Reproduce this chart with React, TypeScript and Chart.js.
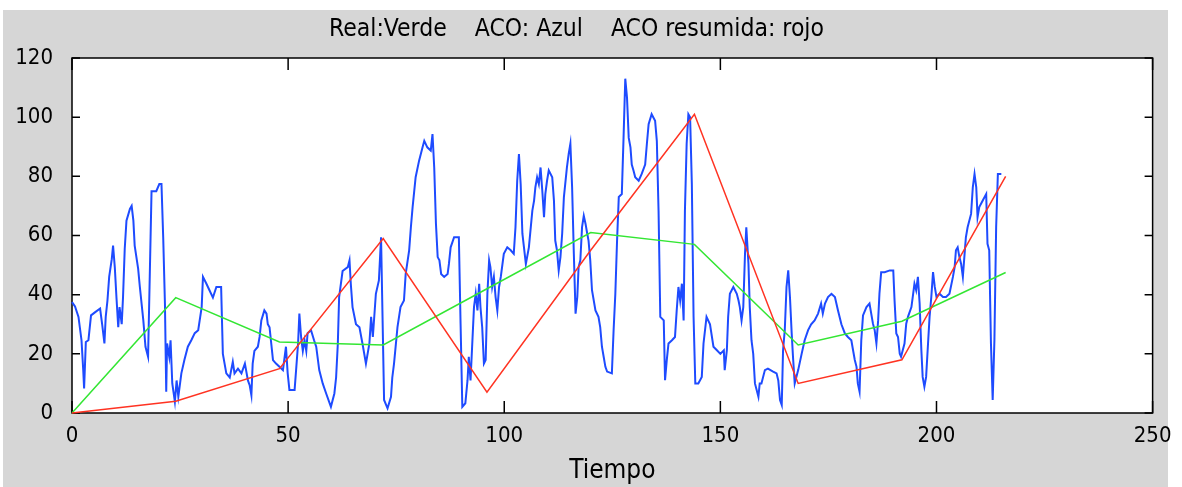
import React, { useEffect, useRef } from "react";
import { Chart, registerables } from "chart.js";

Chart.register(...registerables);

const xTicks = [0, 50, 100, 150, 200, 250];
const yTicks = [0, 20, 40, 60, 80, 100, 120];

const titleText = "Real:Verde    ACO: Azul    ACO resumida: rojo";
const xTitle = "Tiempo";

// Real (verde)
const realT = [0, 24, 48, 72, 96, 120, 144, 168, 192, 216];
const realV = [0, 39, 24, 23, 42, 61, 57, 23, 31, 47.5];

// ACO resumida (rojo)
const resT = [0, 24, 48, 72, 96, 120, 144, 168, 192, 216];
const resV = [0, 4, 15, 59, 7, 55, 101, 10, 18, 80];

// ACO (azul)
const acoT = [
  0, 0.7, 1.5, 2.2, 2.6, 2.8, 3.2, 3.8, 4.4, 5.3, 6.5, 7, 7.5, 7.8, 8.2, 8.6, 9.2, 9.5, 9.9, 10.3,
  10.7, 11, 11.5, 11.8, 12.2, 12.6, 13.4, 13.8, 14.2, 14.5, 15.3, 15.7, 16.5, 17, 17.6, 18, 18.4, 19.5, 20.2, 20.7,
  21.1, 21.5, 21.8, 22, 22.5, 22.8, 23.2, 23.8, 24.2, 24.6, 25.3, 26, 26.8, 27.6, 28.4, 29.2, 30, 30.3, 31.1, 31.8,
  32.6, 33.4, 34.5, 34.9, 35.7, 36.5, 37.2, 37.6, 38.4, 39.2, 40, 40.7, 41.1, 41.5, 41.8, 42.2, 43, 43.4, 43.8, 44.5,
  45, 45.3, 45.7, 46.5, 47.2, 48, 48.8, 49.5, 49.9, 50.3, 51.5, 51.9, 52.3, 52.6, 53, 53.4, 53.8, 54.2, 54.5, 55.3,
  56, 56.5, 57.2, 58, 58.8, 59.9, 60.7, 61.1, 61.5, 61.8, 62.6, 63.8, 64.2, 64.5, 64.9, 65.7, 66.5, 67.2, 68, 68.8,
  69.2, 69.6, 70.3, 71, 71.5, 72.2, 73, 73.8, 74.1, 74.5, 75.3, 76, 76.8, 77.2, 78, 78.4, 78.8, 79.5, 80.3, 81.1,
  81.5, 82.2, 83, 83.4, 83.8, 84.2, 84.6, 85, 85.4, 86.1, 86.9, 87.2, 87.6, 88.4, 89.5, 89.9, 90.3, 91, 91.5, 91.8,
  92.2, 93, 93.4, 93.8, 94.2, 94.5, 94.9, 95.3, 95.7, 96.1, 96.5, 96.8, 97.2, 97.6, 98, 98.4, 98.8, 99.2, 99.9, 100.7,
  101.5, 102.2, 102.6, 103, 103.4, 103.8, 104.2, 105, 105.7, 106.5, 106.9, 107.2, 107.6, 108, 108.4, 108.8, 109.2, 109.5, 109.9, 110.3,
  111.1, 111.5, 111.8, 112.2, 112.6, 113, 113.4, 113.8, 114.5, 114.9, 115.3, 115.7, 116.1, 116.5, 116.9, 117.2, 117.6, 118, 118.4, 118.8,
  119.2, 119.5, 119.9, 120.3, 121.1, 121.8, 122.2, 122.6, 123, 123.4, 123.8, 124.9, 125.3, 125.7, 126.1, 126.5, 127.2, 127.6, 128, 128.4,
  128.8, 129.2, 129.5, 129.9, 130.3, 131.1, 131.8, 132.6, 133, 133.4, 134.1, 134.9, 135.3, 135.7, 136.1, 136.9, 137.2, 137.6, 138, 138.8,
  139.5, 139.9, 140.3, 140.7, 141.1, 141.5, 141.8, 142.2, 142.6, 143, 143.4, 143.8, 144.2, 144.9, 145.7, 146.1, 146.8, 147.6, 148.4, 149.2,
  150, 150.8, 151, 151.5, 151.8, 152.2, 153, 153.8, 154.2, 154.5, 154.9, 155.3, 155.7, 156, 156.5, 156.8, 157.2, 157.6, 158, 158.8,
  159.1, 159.5, 160.3, 161, 162.2, 163, 163.4, 163.8, 164.2, 164.5, 164.9, 165.3, 165.7, 166.1, 166.5, 166.8, 167.2, 168, 168.8, 169.5,
  170.3, 171, 171.8, 172.6, 173.3, 173.7, 174.2, 174.9, 175.7, 176.5, 177.2, 178, 178.8, 179.5, 180.3, 180.7, 181.1, 181.5, 181.8, 182.2,
  182.6, 183, 183.8, 184.5, 185.3, 185.7, 186.1, 186.5, 186.8, 187.2, 188, 189.2, 190, 190.3, 190.7, 191.1, 191.5, 191.8, 192.6, 193,
  193.4, 194.2, 194.6, 194.9, 195.3, 195.7, 196.1, 196.5, 196.8, 197.2, 197.6, 198, 198.4, 198.8, 199.2, 199.6, 200, 200.7, 201.5, 202.2,
  203, 203.8, 204.2, 204.5, 204.9, 205.3, 205.7, 206.1, 206.5, 206.8, 207.2, 208, 208.4, 208.8, 209.2, 209.5, 209.9, 210.7, 211.5, 211.8,
  212.2, 212.6, 213, 213.4, 213.8, 214.2, 215,
];
const acoV = [
  37.5, 36, 32.5, 24.6, 14.5, 8.3, 24, 24.6, 33, 34, 35.3, 29.7, 23.5, 32.5, 38, 46, 52, 56.6, 49.3, 38.7,
  29, 35.8, 30, 39, 55.5, 65, 69, 70, 65, 56.6, 48.8, 42.6, 31.3, 22.4, 19, 47, 75, 75, 77.4, 77.4,
  59.4, 37, 7.2, 23.5, 19, 24.6, 10, 3.8, 11, 5.5, 13.4, 17.9, 22.4, 24.6, 27, 28, 35.8, 46, 43.7, 41.5,
  39, 42.6, 42.6, 20, 13.4, 12, 17.3, 13.4, 15, 13.4, 16.7, 11, 9.4, 6, 16.7, 21, 22.4, 25.7, 31.3, 34.7,
  33.6, 30, 29, 17.9, 16.7, 15.6, 14.5, 22.4, 13.4, 7.8, 7.8, 15.6, 23.5, 33.6, 25.7, 21, 24.6, 21, 27, 28,
  24.6, 22.4, 14.5, 10, 6.6, 2.1, 6.6, 12, 23.5, 39.2, 48, 49.3, 51.6, 43.7, 35.8, 30, 29, 23.5, 16.7, 23.5,
  32.5, 25.7, 40.3, 44.8, 59.4, 4.4, 1.6, 5.5, 12, 16.7, 29, 35.8, 38, 47, 55, 62.8, 69.6, 79.7, 85.3, 89.8,
  92, 89.8, 88.7, 94.3, 83, 64, 52.7, 51.6, 47, 46, 47, 50.4, 56, 59.4, 59.4, 30, 2.1, 3.3, 11, 19,
  11, 35.8, 40.3, 34.7, 43.7, 35.8, 29, 16.7, 17.9, 40.3, 51.6, 49.3, 42.6, 46, 39.2, 34.7, 42.6, 46, 53.8, 56,
  55, 53.8, 62.8, 78.5, 87.5, 77.4, 60.6, 50.4, 56, 68.4, 71.8, 76.3, 79.7, 77.4, 83, 75.2, 66.2, 74, 78.5, 82,
  79.7, 71.8, 58.3, 55, 48.2, 52.7, 60.6, 73, 83, 87.5, 91, 76.3, 53.8, 33.6, 39.2, 49.3, 51.6, 62.8, 66.7, 64,
  60.6, 58.3, 51.6, 41.5, 34.7, 32.5, 29, 22.4, 19, 15.6, 14, 13.4, 28, 40.3, 58.3, 73, 74, 93, 113, 106.6,
  93, 89.8, 84, 82, 79.7, 78.5, 80.8, 84, 91, 97.6, 101, 98.8, 92, 68.4, 32.5, 31.3, 11.1, 17.9, 23.5, 24.6,
  25.7, 34.7, 42.6, 38, 43.7, 31.3, 68.4, 91, 101, 100, 77.4, 32.5, 10, 10, 12.2, 23.5, 32.5, 30, 22.4, 21.2,
  20, 21.2, 14.5, 21.2, 32.5, 40.3, 42.6, 40.3, 38, 35.8, 31.3, 35.8, 53.8, 62.8, 50.4, 35.8, 24.6, 20, 10, 5.5,
  10, 10, 14.5, 15, 14, 13.4, 11, 4.4, 2.7, 21.2, 28, 42.6, 48.2, 39.2, 26.9, 19, 10, 14.5, 20, 24.6,
  28, 30, 31.3, 33.6, 37, 33.6, 37, 39.2, 40.3, 39.2, 34.7, 30, 26.9, 25.7, 24.6, 21.2, 17.9, 15.6, 10, 7.2,
  24.6, 33, 35.8, 37, 30.2, 28, 23.5, 31.3, 40.3, 47.6, 47.6, 48.2, 48.2, 38, 26.9, 25.7, 20, 19, 23.5, 30.2,
  32.5, 35.8, 40.3, 43.7, 41.5, 46, 37, 21.2, 12.2, 8.9, 12.2, 22.4, 32.5, 39.2, 47.6, 42.6, 39.2, 40.3, 39.2, 39.2,
  40.3, 46, 49.3, 55, 56, 52.7, 50.4, 46, 53.8, 59.4, 62.8, 67.3, 76.3, 80.8, 76.3, 66.2, 69.6, 71.8, 74, 57.2,
  55, 23.5, 4.4, 24.6, 62.8, 80.8, 80.8,
];

const FONT = '"Liberation Sans Narrow", "DejaVu Sans Condensed", "Liberation Sans", sans-serif';

const toPoints = (t: number[], v: number[]) => t.map((x, i) => ({ x, y: v[i] }));

const framePlugin = {
  id: "matlabFrame",
  beforeDraw(chart: any) {
    const { ctx, chartArea: a, width, height } = chart;
    ctx.save();
    ctx.fillStyle = "#ffffff";
    ctx.fillRect(0, 0, width, height);
    ctx.fillStyle = "#d6d6d6";
    ctx.fillRect(3, 10, 1165, height - 10);
    ctx.fillStyle = "#ffffff";
    ctx.fillRect(a.left, a.top, a.right - a.left, a.bottom - a.top);
    ctx.restore();
  },
  beforeDatasetsDraw(chart: any) {
    const { ctx, chartArea: a, scales } = chart;
    ctx.save();
    ctx.strokeStyle = "#000000";
    ctx.lineWidth = 1.5;
    ctx.strokeRect(a.left, a.top, a.right - a.left, a.bottom - a.top);
    ctx.beginPath();
    for (const v of xTicks) {
      const px = scales.x.getPixelForValue(v);
      ctx.moveTo(px, a.bottom);
      ctx.lineTo(px, a.bottom - 12);
      ctx.moveTo(px, a.top);
      ctx.lineTo(px, a.top + 12);
    }
    for (const v of yTicks) {
      const py = scales.y.getPixelForValue(v);
      ctx.moveTo(a.left, py);
      ctx.lineTo(a.left + 8, py);
      ctx.moveTo(a.right, py);
      ctx.lineTo(a.right - 8, py);
    }
    ctx.stroke();
    ctx.restore();
  },
};

export default function App() {
  const ref = useRef<HTMLCanvasElement | null>(null);

  useEffect(() => {
    document.body.style.margin = "0";
    const canvas = ref.current;
    if (!canvas) return;
    const chart = new Chart(canvas, {
      type: "line",
      data: {
        datasets: [
          {
            label: "ACO resumida",
            data: toPoints(resT, resV),
            borderColor: "#ff3322",
            borderWidth: 1.5,
            pointRadius: 0,
            order: 0,
            clip: false,
          },
          {
            label: "Real",
            data: toPoints(realT, realV),
            borderColor: "#33e633",
            borderWidth: 1.5,
            pointRadius: 0,
            order: 1,
            clip: false,
          },
          {
            label: "ACO",
            data: toPoints(acoT, acoV),
            borderColor: "#1e4bff",
            borderWidth: 2,
            pointRadius: 0,
            order: 2,
            clip: false,
          },
        ] as any,
      },
      plugins: [framePlugin],
      options: {
        responsive: false,
        animation: false,
        devicePixelRatio: 1,
        layout: { padding: { left: 0, right: 29, top: 0, bottom: 0 } },
        elements: { line: { tension: 0 } },
        plugins: {
          legend: { display: false },
          tooltip: { enabled: false },
          title: {
            display: true,
            text: titleText,
            color: "#000000",
            font: { family: FONT, size: 24.5, weight: "normal" },
            padding: { top: 15.3, bottom: 13.3 },
          },
        },
        scales: {
          x: {
            type: "linear",
            min: 0,
            max: 250,
            afterBuildTicks: (s: any) => {
              s.ticks = xTicks.map((value) => ({ value }));
            },
            afterFit: (s: any) => {
              s.height = 74;
            },
            ticks: {
              color: "#000000",
              font: { family: FONT, size: 22 },
              padding: 10.5,
              maxRotation: 0,
              autoSkip: false,
            },
            grid: { display: false, drawTicks: false, tickLength: 0 },
            border: { display: false },
            title: {
              display: true,
              text: xTitle,
              color: "#000000",
              font: { family: FONT, size: 26 },
              padding: 0,
            },
          },
          y: {
            type: "linear",
            min: 0,
            max: 120,
            afterBuildTicks: (s: any) => {
              s.ticks = yTicks.map((value) => ({ value }));
            },
            afterFit: (s: any) => {
              s.width = 72;
            },
            ticks: {
              color: "#000000",
              font: { family: FONT, size: 22 },
              padding: 19,
              autoSkip: false,
            },
            grid: { display: false, drawTicks: false, tickLength: 0 },
            border: { display: false },
          },
        },
      } as any,
    });
    return () => chart.destroy();
  }, []);

  return (
    <canvas
      ref={ref}
      width={1182}
      height={487}
      style={{ display: "block", width: 1182, height: 487 }}
    />
  );
}
